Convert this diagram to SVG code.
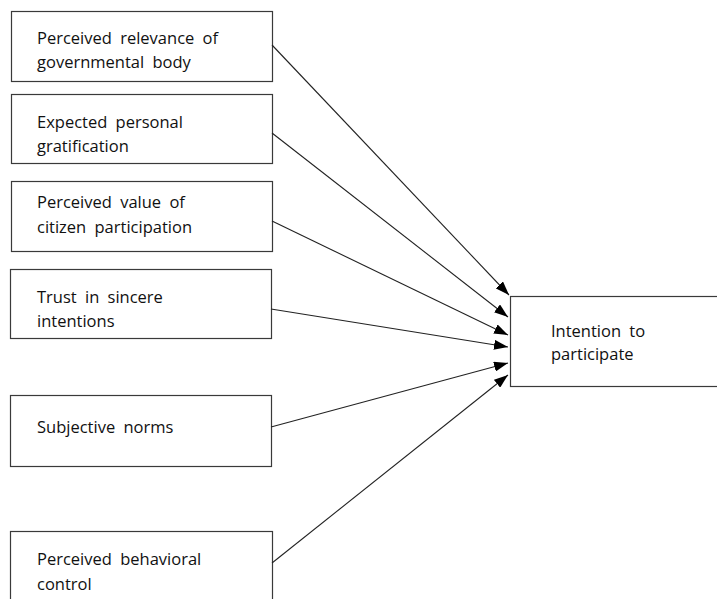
<svg xmlns="http://www.w3.org/2000/svg" width="717" height="599" viewBox="0 0 717 599">
<style>
.box{fill:#fff;stroke:#3a3a3a;stroke-width:1.2}
.t{font-family:"Open Sans","Noto Sans",sans-serif;font-size:16.5px;fill:#111;word-spacing:4px}
.c{stroke:#222;stroke-width:1.1;fill:none;marker-end:url(#ah)}
</style>
<defs>
<marker id="ah" viewBox="0 0 14 10" refX="14" refY="5" markerWidth="14" markerHeight="10" markerUnits="userSpaceOnUse" orient="auto">
<path d="M0,0 L14,5 L0,10 z" fill="#000"/>
</marker>
</defs>
<rect width="717" height="599" fill="#fff"/>
<g id="n1"><rect class="box" x="11.5" y="11.5" width="261" height="70"/><text class="t" x="37" y="44">Perceived relevance of</text><text class="t" x="37" y="68">governmental body</text></g>
<g id="n2"><rect class="box" x="11.5" y="94.5" width="261" height="69"/><text class="t" x="37" y="128">Expected personal</text><text class="t" x="37" y="152">gratification</text></g>
<g id="n3"><rect class="box" x="11.5" y="181.5" width="261" height="70"/><text class="t" x="37" y="208">Perceived value of</text><text class="t" x="37" y="233">citizen participation</text></g>
<g id="n4"><rect class="box" x="10.5" y="269.5" width="261" height="69"/><text class="t" x="37" y="303">Trust in sincere</text><text class="t" x="37" y="327">intentions</text></g>
<g id="n5"><rect class="box" x="10.5" y="395.5" width="261" height="71"/><text class="t" x="37" y="433">Subjective norms</text></g>
<g id="n6"><rect class="box" x="10.5" y="531.5" width="262" height="80"/><text class="t" x="37" y="565">Perceived behavioral</text><text class="t" x="37" y="590">control</text></g>
<g id="target"><rect class="box" x="510.5" y="296.5" width="220" height="90"/><text class="t" x="551" y="337">Intention to</text><text class="t" x="551" y="360">participate</text></g>
<g id="connectors">
<line class="c" x1="272" y1="45" x2="509" y2="295"/>
<line class="c" x1="272" y1="133" x2="508" y2="317"/>
<line class="c" x1="272" y1="221" x2="508" y2="335"/>
<line class="c" x1="271" y1="309" x2="508" y2="347"/>
<line class="c" x1="271" y1="427" x2="508" y2="363"/>
<line class="c" x1="272" y1="563" x2="508" y2="375"/>
</g>
</svg>
